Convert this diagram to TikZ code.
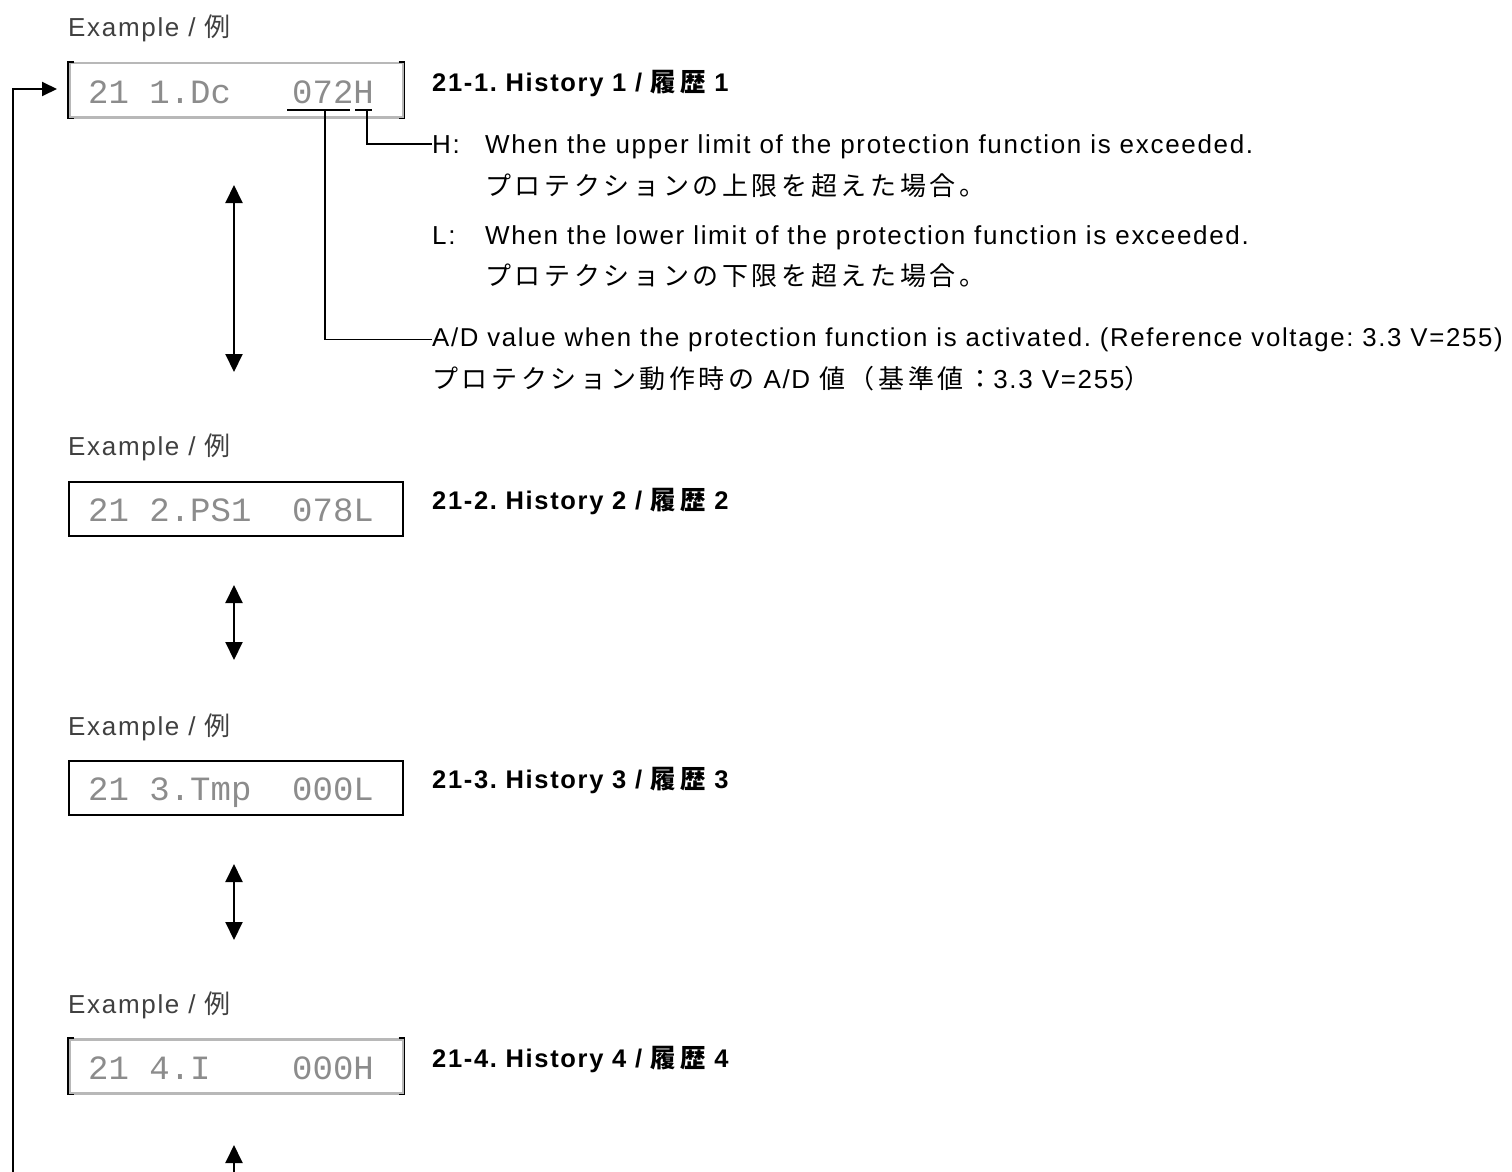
\documentclass[tikz,border=0pt]{standalone}
\usepackage{fontspec}
\setmainfont{Liberation Sans}[LetterSpace=6.5]
\newfontfamily\jp{Noto Sans CJK JP}[LetterSpace=14]
\newfontfamily\lcd{Liberation Mono}
\usetikzlibrary{arrows.meta}
\frenchspacing
\tikzset{
  txt/.style={anchor=base west, inner sep=0pt, font=\fontsize{26}{30}\selectfont},
  ttl/.style={anchor=base west, inner sep=0pt, font=\fontsize{25.5}{30}\selectfont\bfseries},
  ex/.style={txt, text=black!75},
  lcdbox/.style={draw=black, line width=1.5pt, minimum width=334pt, minimum height=54pt, anchor=north west, inner sep=0pt},
  greybox/.style={lcdbox, draw=black!28, line width=2.5pt},
  lcdtxt/.style={anchor=base west, inner sep=0pt, font=\lcd\fontsize{34}{36}\selectfont, text=black!45},
  dbl/.style={line width=2pt, {Triangle[width=17pt,length=18pt]}-{Triangle[width=17pt,length=18pt]}},
  sgl/.style={line width=2pt, -{Triangle[width=17pt,length=18pt]}},
  loopline/.style={line width=2pt, -{Triangle[width=14pt,length=15pt]}},
  con/.style={line width=1.3pt},
}
\begin{document}
\begin{tikzpicture}[x=1pt,y=-1pt]
\useasboundingbox[fill=white] (0,0) rectangle (1512,1172);

% ---- item 1
\node[ex] (e1) at (68,37) {Example / {\jp 例}};
\node[greybox] (b1) at (68,62) {};
\draw[black, line width=1.5pt] ([xshift=6pt]b1.north west) -- (b1.north west) -- (b1.south west) -- ([xshift=6pt]b1.south west);
\draw[black, line width=1.5pt] ([xshift=-6pt]b1.north east) -- (b1.north east) -- (b1.south east) -- ([xshift=-6pt]b1.south east);
\node[lcdtxt] (l1) at (88,103) {21~1.Dc~~~072H};
\node[ttl] (t1) at (432,91) {21-1. History 1 / {\jp 履歴} 1};

\node[txt] (h) at (432,153) {H:};
\node[txt] (hd) at (485,153) {When the upper limit of the protection function is exceeded.};
\node[txt] (hj) at (485,195) {\jp プロテクションの上限を超えた場合。};
\node[txt] (l) at (432,244) {L:};
\node[txt] (ld) at (485,244) {When the lower limit of the protection function is exceeded.};
\node[txt] (lj) at (485,285) {\jp プロテクションの下限を超えた場合。};
\node[txt, font=\fontsize{25.8}{30}\selectfont] (ad) at (432,346) {A/D value when the protection function is activated. (Reference voltage: 3.3 V=255)};
\node[txt] (aj) at (432,388) {{\jp プロテクション動作時の} A/D {\jp 値（基準値：}3.3 V=255{\jp ）}};

\coordinate (u1a) at (287,110);
\coordinate (u1b) at (350,110);
\coordinate (u2a) at (355,110);
\coordinate (u2b) at (372,110);
\draw[con] (u1a) -- (u1b);
\draw[con] (u2a) -- (u2b);
\coordinate (hk) at (367,110);
\coordinate (ak) at (325,110);
\draw[con] (hk) |- (h.west);
\draw[con] (ak) |- (ad.west);

\coordinate (a1s) at (234,185);
\coordinate (a1e) at (234,372);
\draw[dbl] (a1s) -- (a1e);

% ---- item 2
\node[ex] (e2) at (68,455) {Example / {\jp 例}};
\node[lcdbox] (b2) at (68,481) {};
\node[lcdtxt] (l2) at (88,521) {21~2.PS1~~078L};
\node[ttl] (t2) at (432,509) {21-2. History 2 / {\jp 履歴} 2};
\coordinate (a2s) at (234,585);
\coordinate (a2e) at (234,660);
\draw[dbl] (a2s) -- (a2e);

% ---- item 3
\node[ex] (e3) at (68,735) {Example / {\jp 例}};
\node[lcdbox] (b3) at (68,760) {};
\node[lcdtxt] (l3) at (88,800) {21~3.Tmp~~000L};
\node[ttl] (t3) at (432,788) {21-3. History 3 / {\jp 履歴} 3};
\coordinate (a3s) at (234,864);
\coordinate (a3e) at (234,940);
\draw[dbl] (a3s) -- (a3e);

% ---- item 4
\node[ex] (e4) at (68,1013) {Example / {\jp 例}};
\node[greybox] (b4) at (68,1038) {};
\draw[black, line width=1.5pt] ([xshift=6pt]b4.north west) -- (b4.north west) -- (b4.south west) -- ([xshift=6pt]b4.south west);
\draw[black, line width=1.5pt] ([xshift=-6pt]b4.north east) -- (b4.north east) -- (b4.south east) -- ([xshift=-6pt]b4.south east);
\node[lcdtxt] (l4) at (88,1079) {21~4.I~~~~000H};
\node[ttl] (t4) at (432,1067) {21-4. History 4 / {\jp 履歴} 4};
\coordinate (a4b) at (234,1172);
\coordinate (a4t) at (234,1145);
\draw[sgl] (a4b) -- (a4t);

% ---- return loop
\coordinate (lpb) at (13,1172);
\coordinate (lpt) at (57,89);
\draw[loopline] (lpb) |- (lpt);
\end{tikzpicture}
\end{document}
